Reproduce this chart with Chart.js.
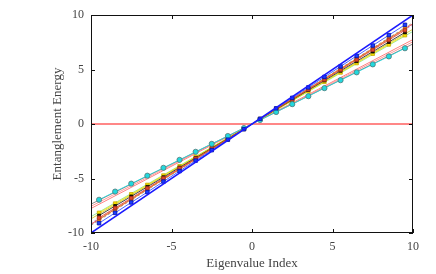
<!DOCTYPE html>
<html>
<head>
<meta charset="utf-8">
<script src="https://cdn.jsdelivr.net/npm/chart.js@4"></script>
<style>
  html, body { margin: 0; padding: 0; background: #fff; }
</style>
</head>
<body>
<canvas id="myChart" width="436" height="274"></canvas>
<script>
// eigenvalue index of each marker
const eigIndex = [-9.5, -8.5, -7.5, -6.5, -5.5, -4.5, -3.5, -2.5, -1.5, -0.5,
                  0.5, 1.5, 2.5, 3.5, 4.5, 5.5, 6.5, 7.5, 8.5, 9.5];

// entanglement energies
const blueVals   = [-9.1, -8.15, -7.2, -6.25, -5.28, -4.32, -3.36, -2.4, -1.44, -0.48,
                    0.48, 1.44, 2.4, 3.36, 4.32, 5.28, 6.25, 7.2, 8.15, 9.1];
const redVals    = [-8.6, -7.7, -6.8, -5.9, -4.98, -4.07, -3.17, -2.26, -1.36, -0.45,
                    0.45, 1.36, 2.26, 3.17, 4.07, 4.98, 5.9, 6.8, 7.7, 8.6];
const orangeVals = [-8.75, -7.83, -6.92, -5.99, -5.07, -4.15, -3.22, -2.3, -1.38, -0.46,
                    0.46, 1.38, 2.3, 3.22, 4.15, 5.07, 5.99, 6.92, 7.83, 8.75];
const blackVals  = [-8.4, -7.52, -6.64, -5.76, -4.88, -3.99, -3.11, -2.22, -1.34, -0.45,
                    0.45, 1.34, 2.22, 3.11, 3.99, 4.88, 5.76, 6.64, 7.52, 8.4];
const yellowVals = [-8.15, -7.3, -6.45, -5.59, -4.73, -3.87, -3.01, -2.15, -1.29, -0.43,
                    0.43, 1.29, 2.15, 3.01, 3.87, 4.73, 5.59, 6.45, 7.3, 8.15];
const cyanVals   = [-6.95, -6.2, -5.47, -4.74, -4.02, -3.29, -2.55, -1.82, -1.1, -0.37,
                    0.37, 1.1, 1.82, 2.55, 3.29, 4.02, 4.74, 5.47, 6.2, 6.95];

// reference / fit lines, values at index -10 and 10
const lineEnds   = [-10, 10];
const diagLine   = [-10, 10];
const zeroLine   = [0, 0];
const pinkA      = [-7.75, 7.75];
const pinkB      = [-7.55, 7.55];
const greyA      = [-7.35, 7.35];
const greenLine  = [-8.5, 8.5];
const yellowLine = [-8.7, 8.7];
const purpleLine = [-9.1, 9.1];
const greyB      = [-9.3, 9.3];
const redLine    = [-9.2, 9.2];

const xTicks = [-10, -5, 0, 5, 10];
const yTicks = [-10, -5, 0, 5, 10];

function pts(xs, ys) {
    return xs.map((x, i) => ({ x: x, y: ys[i] }));
}

function markers(vals, color, edge, style, r) {
    return {
        data: pts(eigIndex, vals),
        borderColor: color,
        borderWidth: 0.8,
        pointStyle: style,
        pointRadius: r,
        pointBackgroundColor: color,
        pointBorderColor: edge,
        pointBorderWidth: 0.8
    };
}

function fitLine(vals, color, width, dash) {
    return {
        data: pts(lineEnds, vals),
        borderColor: color,
        borderWidth: width,
        borderDash: dash || [],
        pointRadius: 0
    };
}

const datasets = [
    fitLine(diagLine, '#1a1aff', 1.5),
    markers(blueVals, '#1a3cff', '#0010a0', 'rect', 2.5),
    markers(cyanVals, '#22d8dd', '#557777', 'circle', 2.6),
    markers(redVals, '#e0452a', '#a03020', 'rect', 2.4),
    markers(orangeVals, '#f08a20', '#b06010', 'rect', 2.4),
    markers(blackVals, '#111111', '#000000', 'rect', 2),
    markers(yellowVals, '#f5e400', '#c8a800', 'rect', 2.5),
    fitLine(zeroLine, '#ff5f5f', 1.6),
    fitLine(redLine, '#e85050', 1),
    fitLine(greyB, '#9a9a9a', 1, [3, 2]),
    fitLine(purpleLine, '#b48ad8', 1, [2, 2]),
    fitLine(yellowLine, '#d8d040', 1),
    fitLine(greenLine, '#9be89b', 1),
    fitLine(greyA, '#888888', 1),
    fitLine(pinkB, '#ff9a9a', 1),
    fitLine(pinkA, '#ff7f7f', 1)
];

// boxed frame with inward ticks on all four sides
const frame = {
    id: 'frame',
    afterDraw(chart) {
        const ctx = chart.ctx;
        const a = chart.chartArea;
        const xs = chart.scales.x, ys = chart.scales.y;
        ctx.save();
        ctx.strokeStyle = '#111';
        ctx.lineWidth = 1;
        ctx.strokeRect(a.left + 0.5, a.top + 0.5, a.right - a.left - 1, a.bottom - a.top - 1);
        ctx.beginPath();
        xTicks.forEach(v => {
            const px = Math.round(xs.getPixelForValue(v)) + 0.5;
            ctx.moveTo(px, a.bottom); ctx.lineTo(px, a.bottom - 4);
            ctx.moveTo(px, a.top); ctx.lineTo(px, a.top + 4);
        });
        yTicks.forEach(v => {
            const py = Math.round(ys.getPixelForValue(v)) + 0.5;
            ctx.moveTo(a.left, py); ctx.lineTo(a.left + 4, py);
            ctx.moveTo(a.right, py); ctx.lineTo(a.right - 4, py);
        });
        ctx.stroke();
        ctx.restore();
    }
};

const serif = 'Liberation Serif';

new Chart(document.getElementById('myChart'), {
    type: 'line',
    data: { datasets: datasets },
    options: {
        responsive: false,
        animation: false,
        events: [],
        layout: { padding: { left: 0, right: 23, top: 15, bottom: 0 } },
        plugins: { legend: { display: false }, tooltip: { enabled: false } },
        scales: {
            x: {
                type: 'linear', min: -10, max: 10,
                grid: { display: false, drawTicks: false },
                border: { display: false },
                ticks: { stepSize: 5, padding: 7, color: '#444', font: { family: serif, size: 12 } },
                title: { display: true, text: 'Eigenvalue Index', color: '#444',
                         font: { family: serif, size: 13 }, padding: { top: 0, bottom: 3 } },
                afterFit(scale) { scale.height = 41; }
            },
            y: {
                type: 'linear', min: -10, max: 10,
                grid: { display: false, drawTicks: false },
                border: { display: false },
                ticks: { stepSize: 5, padding: 7, color: '#444', font: { family: serif, size: 12 } },
                title: { display: true, text: 'Entanglement Energy', color: '#444',
                         font: { family: serif, size: 13 }, padding: { top: 50, bottom: 0 } },
                afterFit(scale) { scale.width = 91; }
            }
        }
    },
    plugins: [frame]
});
</script>
</body>
</html>
